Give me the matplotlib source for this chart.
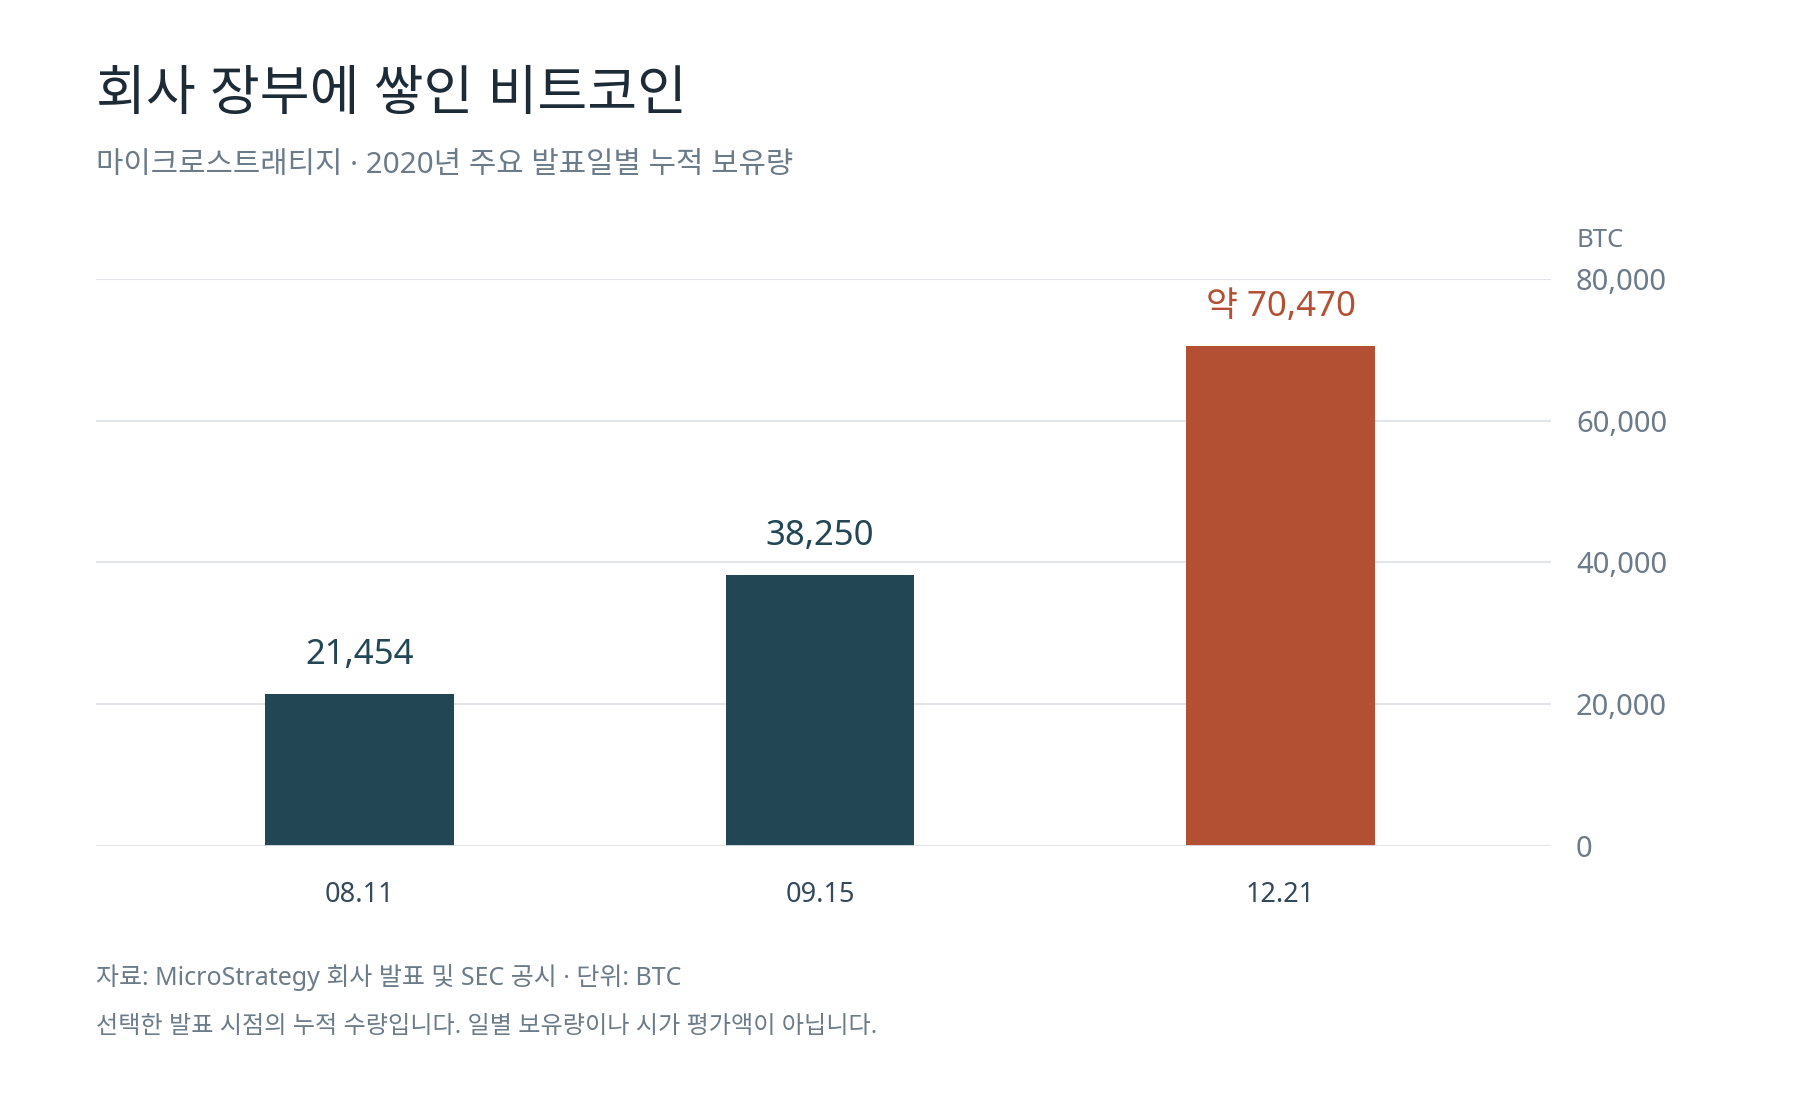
import matplotlib.pyplot as plt
from matplotlib.ticker import FuncFormatter

plt.rcParams['font.family'] = ['Noto Sans', 'Noto Sans CJK KR', 'DejaVu Sans']

# data
dates = ['08.11', '09.15', '12.21']
holdings = [21454, 38250, 70470]
value_labels = ['21,454', '38,250', '약 70,470']
highlight = [False, False, True]
y_ticks = [0, 20000, 40000, 60000, 80000]

dark = '#234654'
accent = '#B35034'
title_col = '#1D2B36'
gray = '#6B7B88'
grid_col = '#E2E6E9'

fig = plt.figure(figsize=(18, 11), dpi=100)
ax_w = 0.8084
ax = fig.add_axes([0.0533, 0.231, ax_w, 0.5155])

x = range(len(dates))
colors = [accent if h else dark for h in highlight]
ax.bar(x, holdings, width=0.41, color=colors, zorder=3)

for i, (v, lab) in enumerate(zip(holdings, value_labels)):
    ax.annotate(lab, (i, v), xytext=(0, 16), textcoords='offset points',
                ha='center', va='bottom', fontsize=25,
                color=accent if highlight[i] else dark)

ax.set_xlim(-0.5725, 2.5875)
ax.set_ylim(0, 80000)
ax.set_yticks(y_ticks)
ax.yaxis.set_major_formatter(FuncFormatter(lambda v, p: f'{int(v):,}'))
ax.yaxis.tick_right()
ax.tick_params(axis='y', length=0, pad=18, labelsize=21, labelcolor=gray)
ax.set_xticks(list(x))
ax.set_xticklabels(dates)
ax.tick_params(axis='x', length=0, pad=25, labelsize=19.5, labelcolor='#34495A')
ax.grid(axis='y', color=grid_col, linewidth=1.5, zorder=0)
for s in ax.spines.values():
    s.set_visible(False)
ax.axhline(0, color=grid_col, linewidth=2, zorder=4)

ax.text(1.0 + 25 / (ax_w * 1800), 1.046, 'BTC', transform=ax.transAxes,
        ha='left', va='bottom', fontsize=18.5, color=gray)

fig.text(0.0533, 0.9, '회사 장부에 쌓인 비트코인', fontsize=39, color=title_col,
         ha='left', va='baseline')
fig.text(0.0533, 0.843, '마이크로스트래티지 · 2020년 주요 발표일별 누적 보유량', fontsize=21.4,
         color=gray, ha='left', va='baseline')
fig.text(0.0533, 0.1045, '자료: MicroStrategy 회사 발표 및 SEC 공시 · 단위: BTC', fontsize=18,
         color=gray, ha='left', va='baseline')
fig.text(0.0533, 0.061, '선택한 발표 시점의 누적 수량입니다. 일별 보유량이나 시가 평가액이 아닙니다.',
         fontsize=17.4, color=gray, ha='left', va='baseline')

fig.savefig('out.png', dpi=100, facecolor='white')
